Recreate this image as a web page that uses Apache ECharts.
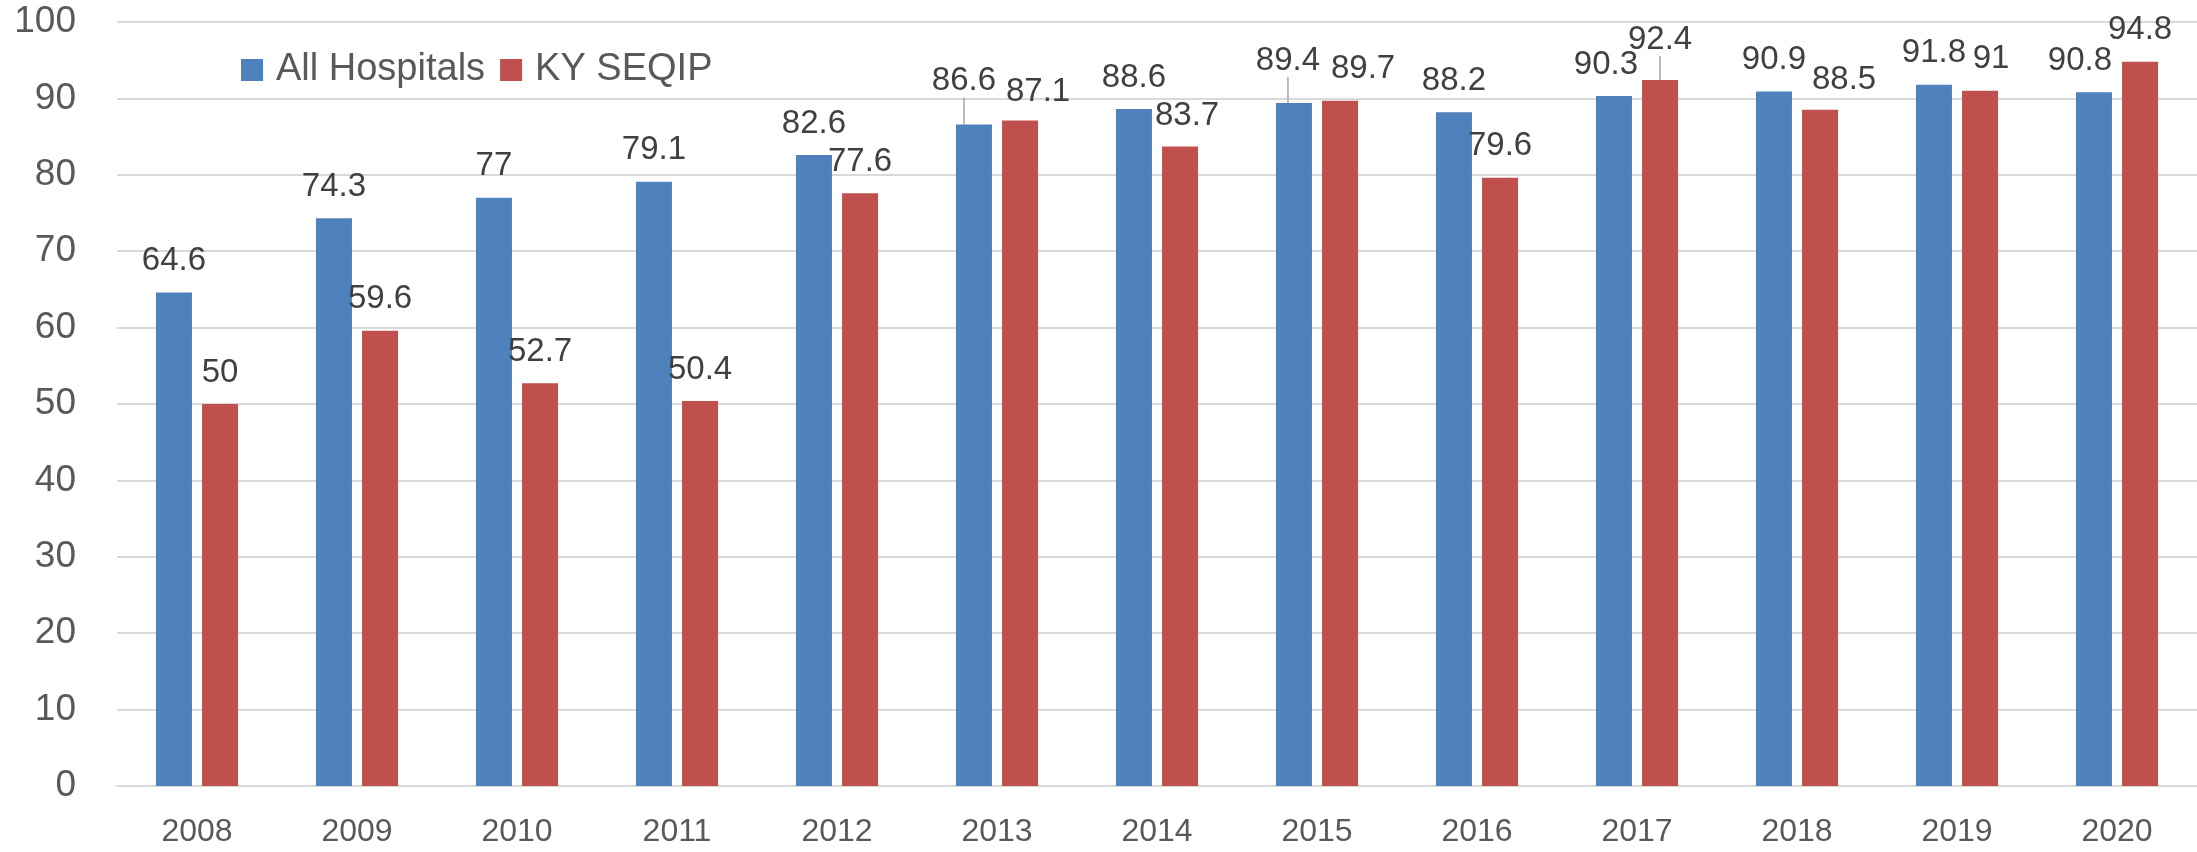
<!DOCTYPE html>
<html>
<head>
<meta charset="utf-8">
<script src="https://cdn.jsdelivr.net/npm/echarts@6/dist/echarts.min.js"></script>
<style>
  html, body { margin: 0; padding: 0; background: #fff; }
  #chart { width: 2197px; height: 852px; }
</style>
</head>
<body>
<div id="chart"></div>
<script>
// 연도
var years = ['2008', '2009', '2010', '2011', '2012', '2013', '2014', '2015', '2016', '2017', '2018', '2019', '2020'];
// 전체 병원
var allHospitals = [64.6, 74.3, 77, 79.1, 82.6, 86.6, 88.6, 89.4, 88.2, 90.3, 90.9, 91.8, 90.8];
// KY SEQIP
var kySeqip = [50, 59.6, 52.7, 50.4, 77.6, 87.1, 83.7, 89.7, 79.6, 92.4, 88.5, 91, 94.8];

// 라벨 위치 보정 (dataIndex: [dx, dy])
var allNudge = { 5: [-10, -12], 7: [-6, -11], 9: [-8, 0], 12: [-14, 0] };
var kyNudge = { 5: [18, 3], 6: [7, 1], 7: [23, 0], 9: [0, -9], 10: [24, 2], 11: [11, 0] };
// 지시선 표시
var allLeader = [5, 7];
var kyLeader = [9];

function toItems(values, leader) {
  return values.map(function (v, i) {
    var item = { value: v };
    if (leader.indexOf(i) >= 0) {
      item.labelLine = { show: true, lineStyle: { color: '#a6a6a6', width: 1.5 } };
    }
    return item;
  });
}

var chart = echarts.init(document.getElementById('chart'));

var labelStyle = {
  show: true,
  position: 'top',
  distance: 15,
  fontFamily: 'Liberation Sans',
  fontSize: 33,
  color: '#404040'
};

chart.setOption({
  animation: false,
  backgroundColor: '#ffffff',
  legend: {
    left: 241,
    top: 51,
    padding: 0,
    itemWidth: 22,
    itemHeight: 22,
    itemGap: 15,
    icon: 'rect',
    textStyle: {
      fontFamily: 'Liberation Sans',
      fontSize: 38,
      color: '#595959',
      padding: [0, 0, 0, 8]
    },
    data: ['All Hospitals', 'KY SEQIP']
  },
  grid: {
    left: 117,
    top: 22,
    width: 2088,
    height: 764
  },
  xAxis: {
    type: 'category',
    data: years,
    axisLine: { lineStyle: { color: '#d9d9d9', width: 2 } },
    axisTick: { show: false },
    axisLabel: {
      fontFamily: 'Liberation Sans',
      fontSize: 32,
      color: '#595959',
      margin: 30
    }
  },
  yAxis: {
    type: 'value',
    min: 0,
    max: 100,
    interval: 10,
    axisLine: { show: false },
    axisTick: { show: false },
    splitLine: { lineStyle: { color: '#d9d9d9', width: 2 } },
    axisLabel: {
      fontFamily: 'Liberation Sans',
      fontSize: 37,
      color: '#595959',
      margin: 41
    }
  },
  series: [{
    name: 'All Hospitals',
    type: 'bar',
    barWidth: 36,
    barGap: '28%',
    data: toItems(allHospitals, allLeader),
    itemStyle: { color: '#4f81bd' },
    label: labelStyle,
    labelLayout: function (params) {
      var n = allNudge[params.dataIndex];
      return n ? { dx: n[0], dy: n[1] } : {};
    }
  }, {
    name: 'KY SEQIP',
    type: 'bar',
    barWidth: 36,
    barGap: '28%',
    data: toItems(kySeqip, kyLeader),
    itemStyle: { color: '#c0504d' },
    label: labelStyle,
    labelLayout: function (params) {
      var n = kyNudge[params.dataIndex];
      return n ? { dx: n[0], dy: n[1] } : {};
    }
  }]
});
</script>
</body>
</html>
